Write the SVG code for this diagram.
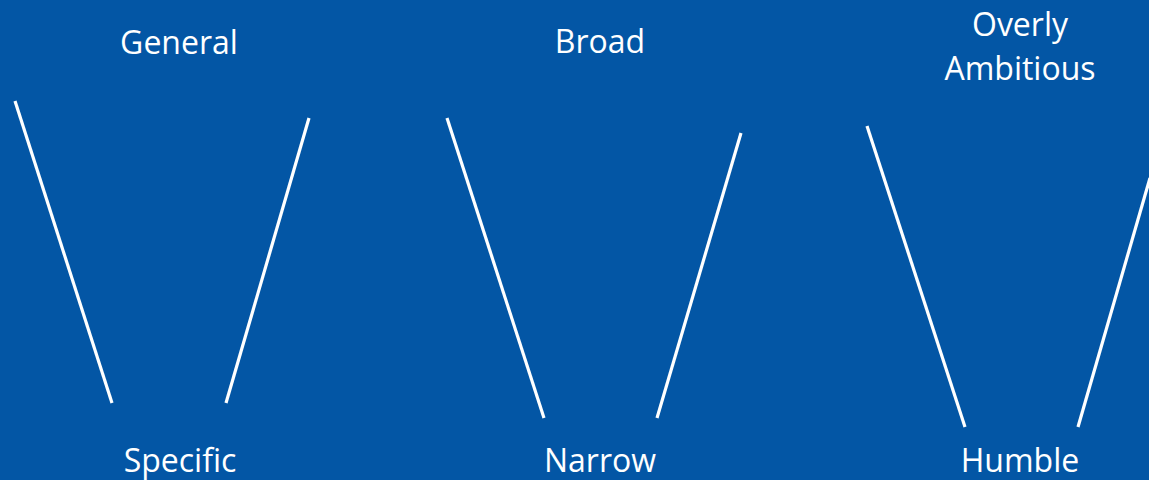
<svg xmlns="http://www.w3.org/2000/svg" width="1149" height="480" viewBox="0 0 1149 480">
<style>
.bg{fill:#0356A5}
.t{fill:#ffffff;font-family:"Open Sans","Liberation Sans",sans-serif;font-size:32px;text-anchor:middle}
.ln{stroke:#ffffff;stroke-width:3.2;fill:none}
</style>
<rect class="bg" x="0" y="0" width="1149" height="480"/>
<g id="labels-top">
<g id="general"><text class="t" x="179" y="54">General</text></g>
<g id="broad"><text class="t" x="600" y="53">Broad</text></g>
<g id="overly-ambitious"><text class="t" x="1020" y="36">Overly</text><text class="t" x="1020" y="80">Ambitious</text></g>
</g>
<g id="labels-bottom">
<g id="specific"><text class="t" x="180" y="472">Specific</text></g>
<g id="narrow"><text class="t" x="600" y="472">Narrow</text></g>
<g id="humble"><text class="t" x="1020" y="472">Humble</text></g>
</g>
<g id="connectors">
<line class="ln" x1="15" y1="101" x2="112" y2="403"/>
<line class="ln" x1="309" y1="118" x2="226" y2="403"/>
<line class="ln" x1="447" y1="118" x2="544" y2="418"/>
<line class="ln" x1="741" y1="133" x2="657" y2="418"/>
<line class="ln" x1="867" y1="126" x2="965" y2="427"/>
<line class="ln" x1="1150" y1="178" x2="1078" y2="427"/>
</g>
</svg>
